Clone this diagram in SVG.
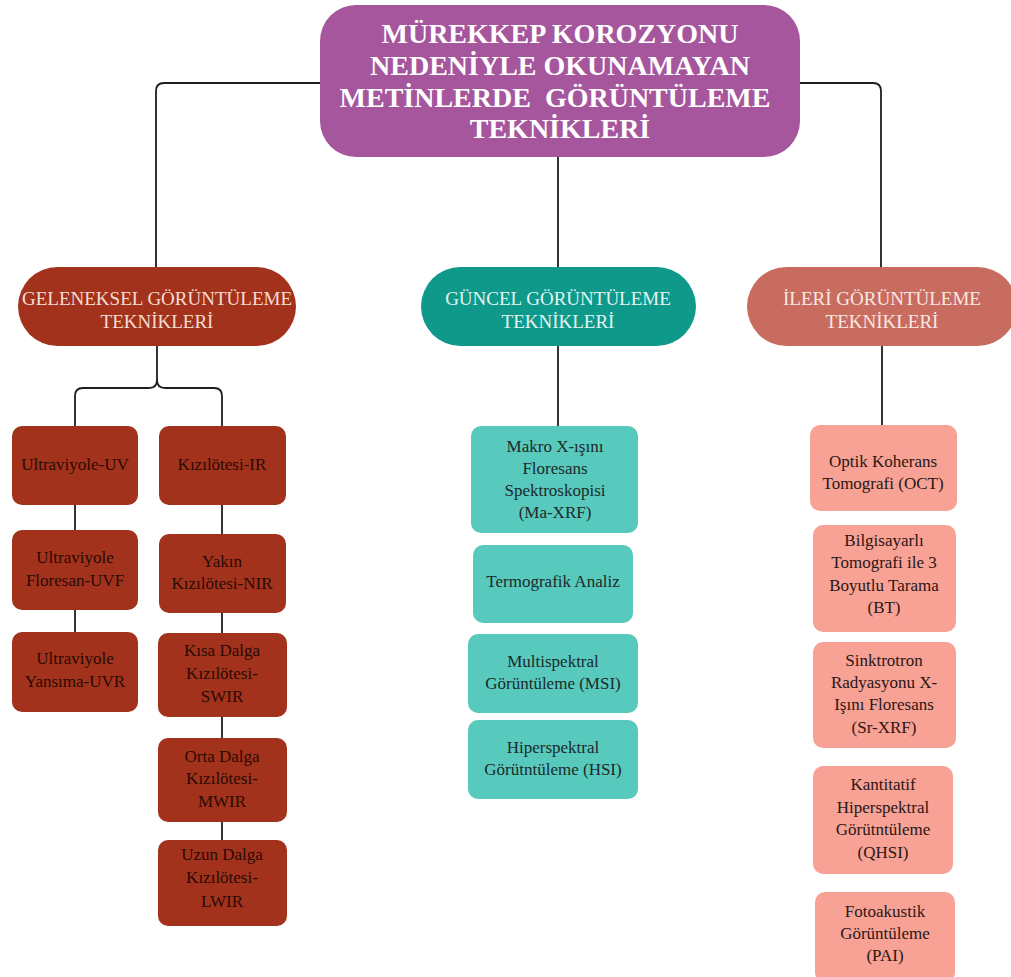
<svg xmlns="http://www.w3.org/2000/svg" width="1011" height="977" viewBox="0 0 1011 977" font-family="'Liberation Serif', serif">
<style>
.bg{fill:#ffffff}
.conn{fill:none;stroke:#1e1e1e;stroke-width:1.8;stroke-linecap:round}
.title{fill:#a6569c}
.t-title{font-family:"Liberation Serif",serif;font-weight:bold;font-size:28px;fill:#ffffff;text-anchor:middle}
.pill-l{fill:#a3321c}
.pill-m{fill:#0f998b}
.pill-r{fill:#c96c60}
.t-pill{font-family:"Liberation Serif",serif;font-size:19px;text-anchor:middle}
.t-pl{fill:#f5ddd3}
.t-pm{fill:#e2f4f1}
.t-pr{fill:#f9e8e2}
.box-l{fill:#a3321c}
.box-m{fill:#58c9bd}
.box-r{fill:#f8a195}
.t-box{font-family:"Liberation Serif",serif;font-size:17px;text-anchor:middle}
.t-bl{fill:#2a0a04}
.t-bm{fill:#1c2a2a}
.t-br{fill:#2b1714}
</style>
<rect class="bg" x="0" y="0" width="1011" height="977"/>
<g id="connectors">
<path class="conn" d="M320,83 H164 Q156,83 156,91 V267"/>
<path class="conn" d="M800,83 H873 Q881,83 881,91 V267"/>
<path class="conn" d="M558,157 V267"/>
<path class="conn" d="M157,346 V380 Q157,388 149,388 H83 Q75,388 75,396 V426"/>
<path class="conn" d="M157,380 Q157,388 165,388 H214 Q222,388 222,396 V426"/>
<path class="conn" d="M75,505 V530"/>
<path class="conn" d="M75,610 V632"/>
<path class="conn" d="M222,505 V534"/>
<path class="conn" d="M222,613 V633"/>
<path class="conn" d="M222,717 V738"/>
<path class="conn" d="M222,822 V840"/>
<path class="conn" d="M558,346 V426"/>
<path class="conn" d="M882,346 V425"/>
</g>
<g id="title">
<rect class="title" x="320" y="5" width="480" height="152" rx="36" ry="36"/>
<text class="t-title" x="560" y="43">MÜREKKEP KOROZYONU</text>
<text class="t-title" x="560" y="75">NEDENİYLE OKUNAMAYAN</text>
<text class="t-title" x="555" y="107" xml:space="preserve">METİNLERDE  GÖRÜNTÜLEME</text>
<text class="t-title" x="560" y="138">TEKNİKLERİ</text>
</g>
<g id="geleneksel">
<rect class="pill-l" x="18" y="267" width="278" height="79" rx="39.5" ry="39.5"/>
<text class="t-pill t-pl" x="157" y="305">GELENEKSEL GÖRÜNTÜLEME</text>
<text class="t-pill t-pl" x="157" y="328">TEKNİKLERİ</text>
</g>
<g id="guncel">
<rect class="pill-m" x="421" y="267" width="275" height="79" rx="39.5" ry="39.5"/>
<text class="t-pill t-pm" x="558" y="305">GÜNCEL GÖRÜNTÜLEME</text>
<text class="t-pill t-pm" x="558" y="328">TEKNİKLERİ</text>
</g>
<g id="ileri">
<rect class="pill-r" x="747" y="267" width="270" height="79" rx="39.5" ry="39.5"/>
<text class="t-pill t-pr" x="882" y="305">İLERİ GÖRÜNTÜLEME</text>
<text class="t-pill t-pr" x="882" y="328">TEKNİKLERİ</text>
</g>
<g id="uv">
<rect class="box-l" x="12" y="426" width="126" height="79" rx="10"/>
<text class="t-box t-bl" x="75" y="470">Ultraviyole-UV</text>
</g>
<g id="uvf">
<rect class="box-l" x="12" y="530" width="126" height="80" rx="10"/>
<text class="t-box t-bl" x="75" y="563">Ultraviyole</text>
<text class="t-box t-bl" x="75" y="586">Floresan-UVF</text>
</g>
<g id="uvr">
<rect class="box-l" x="12" y="632" width="126" height="80" rx="10"/>
<text class="t-box t-bl" x="75" y="664">Ultraviyole</text>
<text class="t-box t-bl" x="75" y="687">Yansıma-UVR</text>
</g>
<g id="ir">
<rect class="box-l" x="159" y="426" width="127" height="79" rx="10"/>
<text class="t-box t-bl" x="222" y="470">Kızılötesi-IR</text>
</g>
<g id="nir">
<rect class="box-l" x="159" y="534" width="127" height="79" rx="10"/>
<text class="t-box t-bl" x="222" y="567">Yakın</text>
<text class="t-box t-bl" x="222" y="589">Kızılötesi-NIR</text>
</g>
<g id="swir">
<rect class="box-l" x="158" y="633" width="129" height="84" rx="10"/>
<text class="t-box t-bl" x="222" y="656">Kısa Dalga</text>
<text class="t-box t-bl" x="222" y="679">Kızılötesi-</text>
<text class="t-box t-bl" x="222" y="702">SWIR</text>
</g>
<g id="mwir">
<rect class="box-l" x="158" y="738" width="129" height="84" rx="10"/>
<text class="t-box t-bl" x="222" y="762">Orta Dalga</text>
<text class="t-box t-bl" x="222" y="784">Kızılötesi-</text>
<text class="t-box t-bl" x="222" y="807">MWIR</text>
</g>
<g id="lwir">
<rect class="box-l" x="158" y="840" width="129" height="86" rx="10"/>
<text class="t-box t-bl" x="222" y="860">Uzun Dalga</text>
<text class="t-box t-bl" x="222" y="883">Kızılötesi-</text>
<text class="t-box t-bl" x="222" y="907">LWIR</text>
</g>
<g id="maxrf">
<rect class="box-m" x="471" y="426" width="167" height="107" rx="10"/>
<text class="t-box t-bm" x="555" y="452">Makro X-ışını</text>
<text class="t-box t-bm" x="555" y="474">Floresans</text>
<text class="t-box t-bm" x="555" y="496">Spektroskopisi</text>
<text class="t-box t-bm" x="555" y="518">(Ma-XRF)</text>
</g>
<g id="termo">
<rect class="box-m" x="473" y="545" width="160" height="78" rx="10"/>
<text class="t-box t-bm" x="553" y="587">Termografik Analiz</text>
</g>
<g id="msi">
<rect class="box-m" x="468" y="634" width="170" height="79" rx="10"/>
<text class="t-box t-bm" x="553" y="667">Multispektral</text>
<text class="t-box t-bm" x="553" y="689">Görüntüleme (MSI)</text>
</g>
<g id="hsi">
<rect class="box-m" x="468" y="720" width="170" height="79" rx="10"/>
<text class="t-box t-bm" x="553" y="753">Hiperspektral</text>
<text class="t-box t-bm" x="553" y="775">Görütntüleme (HSI)</text>
</g>
<g id="oct">
<rect class="box-r" x="810" y="425" width="147" height="86" rx="10"/>
<text class="t-box t-br" x="883" y="467">Optik Koherans</text>
<text class="t-box t-br" x="883" y="489">Tomografi (OCT)</text>
</g>
<g id="bt">
<rect class="box-r" x="813" y="525" width="143" height="107" rx="10"/>
<text class="t-box t-br" x="884" y="546">Bilgisayarlı</text>
<text class="t-box t-br" x="884" y="568">Tomografi ile 3</text>
<text class="t-box t-br" x="884" y="591">Boyutlu Tarama</text>
<text class="t-box t-br" x="884" y="613">(BT)</text>
</g>
<g id="srxrf">
<rect class="box-r" x="813" y="642" width="143" height="106" rx="10"/>
<text class="t-box t-br" x="884" y="666">Sinktrotron</text>
<text class="t-box t-br" x="884" y="688">Radyasyonu X-</text>
<text class="t-box t-br" x="884" y="710">Işını Floresans</text>
<text class="t-box t-br" x="884" y="733">(Sr-XRF)</text>
</g>
<g id="qhsi">
<rect class="box-r" x="813" y="766" width="140" height="108" rx="10"/>
<text class="t-box t-br" x="883" y="790">Kantitatif</text>
<text class="t-box t-br" x="883" y="813">Hiperspektral</text>
<text class="t-box t-br" x="883" y="835">Görütntüleme</text>
<text class="t-box t-br" x="883" y="858">(QHSI)</text>
</g>
<g id="pai">
<rect class="box-r" x="815" y="892" width="140" height="90" rx="10"/>
<text class="t-box t-br" x="885" y="917">Fotoakustik</text>
<text class="t-box t-br" x="885" y="939">Görüntüleme</text>
<text class="t-box t-br" x="885" y="961">(PAI)</text>
</g>
</svg>
